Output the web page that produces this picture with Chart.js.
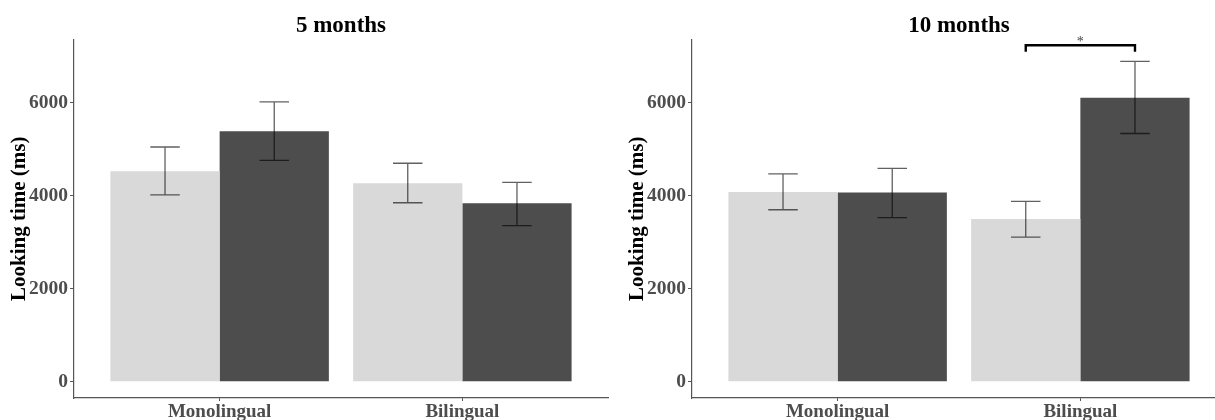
<!DOCTYPE html>
<html>
<head>
<meta charset="utf-8">
<script src="https://cdn.jsdelivr.net/npm/chart.js@4"></script>
<style>
html, body { margin: 0; padding: 0; background: #fff; overflow: hidden; }
#wrap { position: relative; width: 1215px; height: 420px; overflow: hidden; }
.panel { position: absolute; top: 0; width: 618px; height: 420px; }
</style>
</head>
<body>
<div id="wrap">
  <div class="panel" style="left:0"><canvas id="c5"></canvas></div>
  <div class="panel" style="left:618px"><canvas id="c10"></canvas></div>
</div>
<script>
const groups = ['Monolingual', 'Bilingual']
const yTicks = [0, 2000, 4000, 6000]

// 5 months
const fiveLight = [4530, 4270]
const fiveLightLow = [4020, 3850]
const fiveLightHigh = [5050, 4700]
const fiveDark = [5390, 3840]
const fiveDarkLow = [4760, 3360]
const fiveDarkHigh = [6020, 4290]

// 10 months
const tenLight = [4080, 3500]
const tenLightLow = [3700, 3110]
const tenLightHigh = [4470, 3880]
const tenDark = [4070, 6110]
const tenDarkLow = [3530, 5340]
const tenDarkHigh = [4590, 6890]

// significance bracket (10 months, Bilingual)
const sigGroup = 1
const sigTop = 7240
const sigFoot = 7100
const sigLabel = '*'

const serif = "'Liberation Serif', 'Times New Roman', serif"
const lightColor = '#d9d9d9'
const darkColor = '#4d4d4d'
const axisColor = '#555555'

function toPoints(vals) {
    return vals.map((v, i) => ({ x: i, y: v }))
}

const errorBars = {
    id: 'errorBars',
    afterDatasetsDraw(chart) {
        const ctx = chart.ctx
        const y = chart.scales.y
        ctx.save()
        ctx.strokeStyle = 'rgba(0,0,0,0.62)'
        ctx.lineWidth = 1.3
        chart.data.datasets.forEach((ds, i) => {
            const meta = chart.getDatasetMeta(i)
            meta.data.forEach((bar, j) => {
                const lo = y.getPixelForValue(ds.errLow[j])
                const hi = y.getPixelForValue(ds.errHigh[j])
                const half = bar.width * 0.135
                ctx.beginPath()
                ctx.moveTo(bar.x, lo); ctx.lineTo(bar.x, hi)
                ctx.moveTo(bar.x - half, lo); ctx.lineTo(bar.x + half, lo)
                ctx.moveTo(bar.x - half, hi); ctx.lineTo(bar.x + half, hi)
                ctx.stroke()
            })
        })
        ctx.restore()
    }
}

const bracketPlugin = {
    id: 'bracket',
    afterDraw(chart, args, opts) {
        if (!opts.show) return
        const ctx = chart.ctx
        const y = chart.scales.y
        const a = chart.getDatasetMeta(0).data[sigGroup]
        const b = chart.getDatasetMeta(1).data[sigGroup]
        const top = y.getPixelForValue(sigTop)
        const foot = y.getPixelForValue(sigFoot)
        ctx.save()
        ctx.strokeStyle = '#000'
        ctx.lineWidth = 2.4
        ctx.beginPath()
        ctx.moveTo(a.x, foot); ctx.lineTo(a.x, top)
        ctx.lineTo(b.x, top); ctx.lineTo(b.x, foot)
        ctx.stroke()
        ctx.fillStyle = '#444'
        ctx.font = '14px ' + serif
        ctx.textAlign = 'center'
        ctx.textBaseline = 'bottom'
        ctx.fillText(sigLabel, (a.x + b.x) / 2, top + 4)
        ctx.restore()
    }
}

function makeChart(id, title, light, lightLow, lightHigh, dark, darkLow, darkHigh, bracket) {
    return new Chart(document.getElementById(id), {
        type: 'bar',
        data: {
            datasets: [{
                label: 'Light',
                data: toPoints(light),
                errLow: lightLow,
                errHigh: lightHigh,
                backgroundColor: lightColor,
                borderWidth: 0,
                categoryPercentage: 0.9,
                barPercentage: 1.0
            }, {
                label: 'Dark',
                data: toPoints(dark),
                errLow: darkLow,
                errHigh: darkHigh,
                backgroundColor: darkColor,
                borderWidth: 0,
                categoryPercentage: 0.9,
                barPercentage: 1.0
            }]
        },
        options: {
            responsive: true,
            maintainAspectRatio: false,
            animation: false,
            layout: { padding: { left: 0, right: 10, top: 0, bottom: 0 } },
            scales: {
                x: {
                    type: 'linear',
                    min: -0.6,
                    max: 1.6,
                    offset: false,
                    afterBuildTicks: axis => { axis.ticks = groups.map((g, i) => ({ value: i })) },
                    afterFit: axis => { axis.height = 22 },
                    ticks: {
                        callback: v => groups[v],
                        color: '#4d4d4d',
                        font: { family: serif, size: 19, weight: 'bold' },
                        padding: 0,
                        maxRotation: 0,
                        autoSkip: false
                    },
                    grid: { display: true, drawOnChartArea: false, drawTicks: true, tickLength: 3, color: axisColor, offset: false },
                    border: { display: true, color: axisColor, width: 1.2 }
                },
                y: {
                    min: -350,
                    max: 7360,
                    afterBuildTicks: axis => { axis.ticks = yTicks.map(v => ({ value: v })) },
                    afterFit: axis => { axis.width = 74 },
                    title: {
                        display: true,
                        text: 'Looking time (ms)',
                        color: '#000',
                        font: { family: serif, size: 21, weight: 'bold', lineHeight: 1.2 },
                        padding: { top: 7, bottom: 0 }
                    },
                    ticks: {
                        callback: v => String(v),
                        color: '#4d4d4d',
                        font: { family: serif, size: 19.5, weight: 'bold' },
                        padding: 2
                    },
                    grid: { display: true, drawOnChartArea: false, drawTicks: true, tickLength: 4, color: axisColor },
                    border: { display: true, color: axisColor, width: 1.2 }
                }
            },
            plugins: {
                legend: { display: false },
                tooltip: { enabled: false },
                title: {
                    display: true,
                    text: title,
                    fullSize: false,
                    color: '#000',
                    font: { family: serif, size: 23, weight: 'bold', lineHeight: 1 },
                    padding: { top: 15, bottom: 1.6 }
                },
                bracket: { show: bracket }
            }
        },
        plugins: [errorBars, bracketPlugin]
    })
}

makeChart('c5', '5 months', fiveLight, fiveLightLow, fiveLightHigh, fiveDark, fiveDarkLow, fiveDarkHigh, false)
makeChart('c10', '10 months', tenLight, tenLightLow, tenLightHigh, tenDark, tenDarkLow, tenDarkHigh, true)
</script>
</body>
</html>
